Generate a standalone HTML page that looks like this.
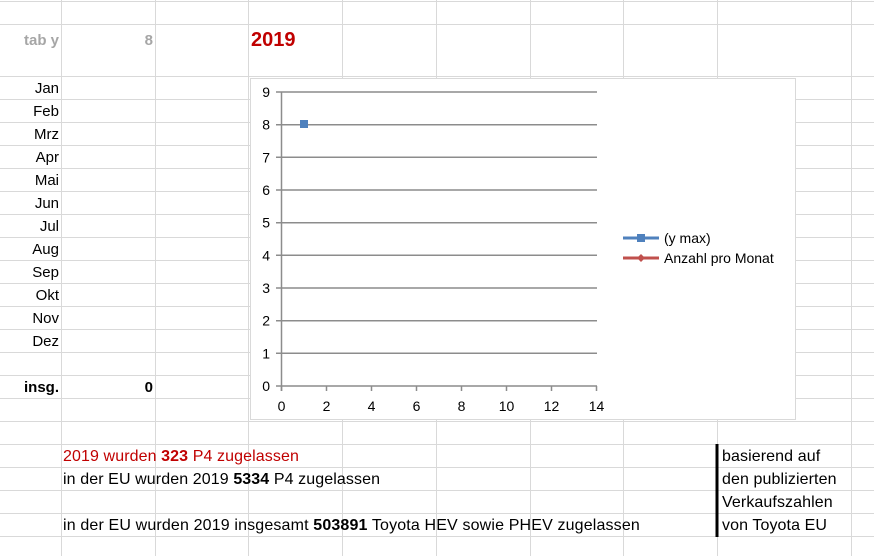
<!DOCTYPE html>
<html><head><meta charset="utf-8"><style>
body{margin:0;width:874px;height:556px;overflow:hidden;background:#fff;font-family:"Liberation Sans",Arial,sans-serif;font-size:15px;color:#000;position:relative}
.t{position:absolute;white-space:nowrap;line-height:18px}
.r{text-align:right}
.b{font-size:16px;letter-spacing:0.1px}
</style></head><body>
<svg width="874" height="556" style="position:absolute;left:0;top:0">
<g stroke="#d9d9d9" stroke-width="1">
<line x1="0" y1="1.5" x2="874" y2="1.5"/>
<line x1="0" y1="24.5" x2="874" y2="24.5"/>
<line x1="0" y1="76.5" x2="874" y2="76.5"/>
<line x1="0" y1="99.5" x2="874" y2="99.5"/><line x1="0" y1="122.5" x2="874" y2="122.5"/>
<line x1="0" y1="145.5" x2="874" y2="145.5"/><line x1="0" y1="168.5" x2="874" y2="168.5"/>
<line x1="0" y1="191.5" x2="874" y2="191.5"/><line x1="0" y1="214.5" x2="874" y2="214.5"/>
<line x1="0" y1="237.5" x2="874" y2="237.5"/><line x1="0" y1="260.5" x2="874" y2="260.5"/>
<line x1="0" y1="283.5" x2="874" y2="283.5"/><line x1="0" y1="306.5" x2="874" y2="306.5"/>
<line x1="0" y1="329.5" x2="874" y2="329.5"/><line x1="0" y1="352.5" x2="874" y2="352.5"/>
<line x1="0" y1="375.5" x2="874" y2="375.5"/><line x1="0" y1="398.5" x2="874" y2="398.5"/>
<line x1="0" y1="421.5" x2="874" y2="421.5"/><line x1="0" y1="444.5" x2="874" y2="444.5"/>
<line x1="0" y1="467.5" x2="874" y2="467.5"/><line x1="0" y1="490.5" x2="874" y2="490.5"/>
<line x1="0" y1="513.5" x2="874" y2="513.5"/><line x1="0" y1="536.5" x2="874" y2="536.5"/>
<line x1="61.5" y1="0" x2="61.5" y2="556"/><line x1="155.5" y1="0" x2="155.5" y2="556"/>
<line x1="248.5" y1="0" x2="248.5" y2="556"/><line x1="342.5" y1="0" x2="342.5" y2="556"/>
<line x1="436.5" y1="0" x2="436.5" y2="556"/><line x1="530.5" y1="0" x2="530.5" y2="556"/>
<line x1="623.5" y1="0" x2="623.5" y2="556"/><line x1="717.5" y1="0" x2="717.5" y2="556"/>
<line x1="851.5" y1="0" x2="851.5" y2="556"/>
</g>
<rect x="250.5" y="78.5" width="545" height="341" fill="#fff" stroke="#d9d9d9"/>
<g stroke="#8c8c8c" stroke-width="1.5">
<line x1="276" y1="92" x2="597" y2="92"/><line x1="276" y1="124.7" x2="597" y2="124.7"/>
<line x1="276" y1="157.3" x2="597" y2="157.3"/><line x1="276" y1="190" x2="597" y2="190"/>
<line x1="276" y1="222.7" x2="597" y2="222.7"/><line x1="276" y1="255.3" x2="597" y2="255.3"/>
<line x1="276" y1="288" x2="597" y2="288"/><line x1="276" y1="320.7" x2="597" y2="320.7"/>
<line x1="276" y1="353.3" x2="597" y2="353.3"/><line x1="276" y1="386" x2="597" y2="386"/>
<line x1="281.5" y1="92" x2="281.5" y2="391"/>
<line x1="281.5" y1="386" x2="281.5" y2="391"/><line x1="326.5" y1="386" x2="326.5" y2="391"/>
<line x1="371.5" y1="386" x2="371.5" y2="391"/><line x1="416.5" y1="386" x2="416.5" y2="391"/>
<line x1="461.5" y1="386" x2="461.5" y2="391"/><line x1="506.5" y1="386" x2="506.5" y2="391"/>
<line x1="551.5" y1="386" x2="551.5" y2="391"/><line x1="596.5" y1="386" x2="596.5" y2="391"/>
</g>
<g font-family="Liberation Sans,Arial,sans-serif" font-size="14" fill="#000">
<text x="270" y="97" text-anchor="end">9</text><text x="270" y="129.7" text-anchor="end">8</text>
<text x="270" y="162.3" text-anchor="end">7</text><text x="270" y="195" text-anchor="end">6</text>
<text x="270" y="227.7" text-anchor="end">5</text><text x="270" y="260.3" text-anchor="end">4</text>
<text x="270" y="293" text-anchor="end">3</text><text x="270" y="325.7" text-anchor="end">2</text>
<text x="270" y="358.3" text-anchor="end">1</text><text x="270" y="391" text-anchor="end">0</text>
<text x="281.5" y="411" text-anchor="middle">0</text><text x="326.5" y="411" text-anchor="middle">2</text>
<text x="371.5" y="411" text-anchor="middle">4</text><text x="416.5" y="411" text-anchor="middle">6</text>
<text x="461.5" y="411" text-anchor="middle">8</text><text x="506.5" y="411" text-anchor="middle">10</text>
<text x="551.5" y="411" text-anchor="middle">12</text><text x="596.5" y="411" text-anchor="middle">14</text>
<text x="664" y="243">(y max)</text><text x="664" y="263">Anzahl pro Monat</text>
</g>
<rect x="300" y="120" width="8" height="8" fill="#4f81bd"/>
<line x1="623" y1="238" x2="659" y2="238" stroke="#4f81bd" stroke-width="3"/>
<rect x="637" y="234" width="8" height="8" fill="#4f81bd"/>
<line x1="623" y1="258" x2="659" y2="258" stroke="#c0504d" stroke-width="3"/>
<polygon points="641,254 645,258 641,262 637,258" fill="#c0504d"/>
<line x1="717" y1="444" x2="717" y2="537" stroke="#000" stroke-width="3"/>
</svg>
<div class="t r" style="left:0;width:59px;top:32px;color:#a6a6a6;font-weight:bold">tab y</div>
<div class="t r" style="left:62px;width:91px;top:32px;color:#a6a6a6;font-weight:bold">8</div>
<div class="t" style="left:251px;top:29px;color:#c00000;font-weight:bold;font-size:20px;line-height:22px">2019</div>
<div class="t r" style="left:0;width:59px;top:80px">Jan</div>
<div class="t r" style="left:0;width:59px;top:103px">Feb</div>
<div class="t r" style="left:0;width:59px;top:126px">Mrz</div>
<div class="t r" style="left:0;width:59px;top:149px">Apr</div>
<div class="t r" style="left:0;width:59px;top:172px">Mai</div>
<div class="t r" style="left:0;width:59px;top:195px">Jun</div>
<div class="t r" style="left:0;width:59px;top:218px">Jul</div>
<div class="t r" style="left:0;width:59px;top:241px">Aug</div>
<div class="t r" style="left:0;width:59px;top:264px">Sep</div>
<div class="t r" style="left:0;width:59px;top:287px">Okt</div>
<div class="t r" style="left:0;width:59px;top:310px">Nov</div>
<div class="t r" style="left:0;width:59px;top:333px">Dez</div>
<div class="t r" style="left:0;width:59px;top:379px;font-weight:bold">insg.</div>
<div class="t r" style="left:62px;width:91px;top:379px;font-weight:bold">0</div>
<div class="t b" style="left:63px;top:448px;color:#c00000">2019 wurden <b>323</b> P4 zugelassen</div>
<div class="t b" style="left:63px;top:471px">in der EU wurden 2019 <b>5334</b> P4 zugelassen</div>
<div class="t b" style="left:63px;top:517px;letter-spacing:0.15px">in der EU wurden 2019 insgesamt <b>503891</b> Toyota HEV sowie PHEV zugelassen</div>
<div class="t b" style="left:722px;top:448px">basierend auf</div>
<div class="t b" style="left:722px;top:471px">den publizierten</div>
<div class="t b" style="left:722px;top:494px">Verkaufszahlen</div>
<div class="t b" style="left:722px;top:517px">von Toyota EU</div>
</body></html>
